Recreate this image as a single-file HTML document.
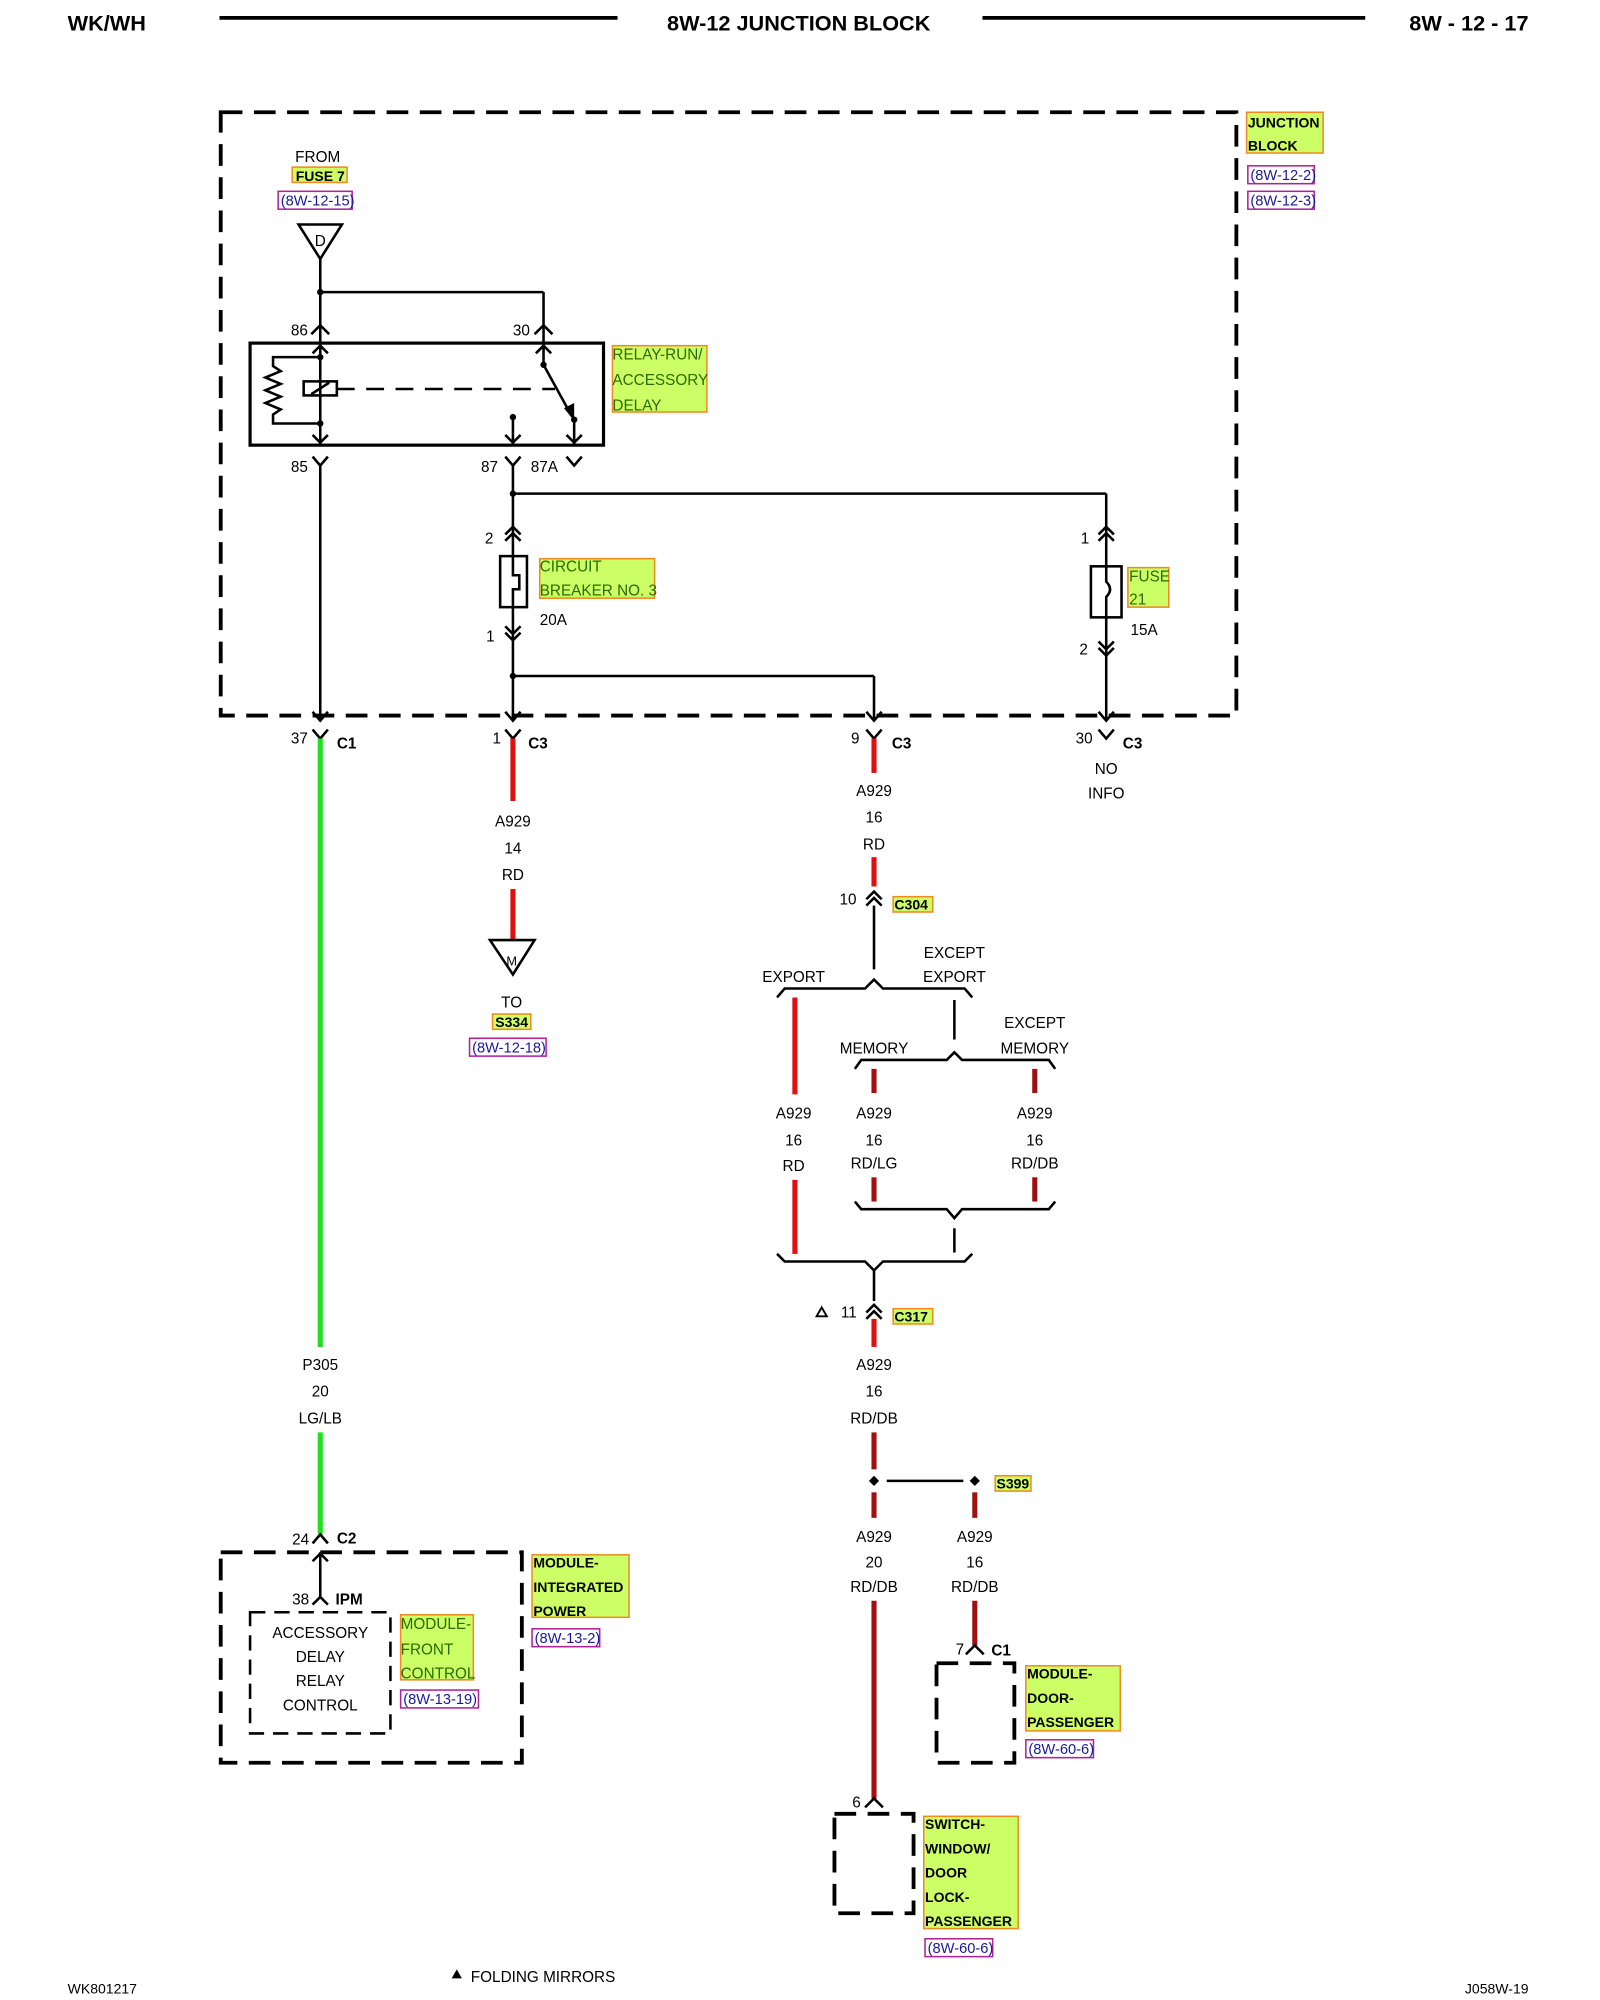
<!DOCTYPE html>
<html><head><meta charset="utf-8"><style>
html,body{margin:0;padding:0;background:#fff;}
svg{display:block;}
text{font-family:"Liberation Sans",sans-serif;font-size:12px;fill:#000;}
.b{font-weight:bold;}
.c{text-anchor:middle;}
.hl{fill:#ccff66;stroke:#f08a20;stroke-width:1.2;}
.hlt{fill:#2a6a00;font-size:12px;}
.hlb{fill:#000;font-weight:bold;font-size:12px;}
.rf{fill:#fff;stroke:#b0209a;stroke-width:1.2;}
.rft{fill:#1a1a9a;font-size:11.5px;}
.w{stroke:#000;stroke-width:2;fill:none;}
.d{stroke:#000;stroke-width:3;fill:none;stroke-dasharray:17 9;}
.d2{stroke:#000;stroke-width:2;fill:none;stroke-dasharray:12 7;}
.red{stroke:#e01010;stroke-width:4;}
.dred{stroke:#a01010;stroke-width:4;}
.grn{stroke:#22dd22;stroke-width:4;}
</style></head><body>
<svg width="1600" height="2000" viewBox="0 0 1254 1568" preserveAspectRatio="none" xmlns="http://www.w3.org/2000/svg">
<text x="53" y="24" class="b" style="font-size:17px">WK/WH</text>
<line x1="172" y1="14" x2="484" y2="14" stroke="#000" stroke-width="3"/>
<text x="626" y="24" class="b c" style="font-size:17px">8W-12 JUNCTION BLOCK</text>
<line x1="770" y1="14" x2="1070" y2="14" stroke="#000" stroke-width="3"/>
<text x="1198" y="24" class="b" style="font-size:17px;text-anchor:end">8W - 12 - 17</text>

<rect x="173" y="88" width="796" height="473" class="d"/>
<rect x="977" y="88" width="60" height="32" class="hl"/>
<text x="978" y="100" class="hlb" style="font-size:11px">JUNCTION</text>
<text x="978" y="118" class="hlb" style="font-size:11px">BLOCK</text>
<rect x="978" y="130" width="52" height="14" class="rf"/><text x="980" y="141" class="rft">(8W-12-2)</text>
<rect x="978" y="150" width="52" height="14" class="rf"/><text x="980" y="161" class="rft">(8W-12-3)</text>

<text x="249" y="127" class="c">FROM</text>
<rect x="229" y="131" width="43" height="12" class="hl"/>
<text x="251" y="142" class="c hlb" style="font-size:11px">FUSE 7</text>
<rect x="218" y="150" width="58" height="14" class="rf"/><text x="220" y="161" class="rft">(8W-12-15)</text>
<polygon points="234,176 268,176 251,203" class="w"/>
<text x="251" y="193" class="c">D</text>
<line x1="251" y1="203" x2="251" y2="268" class="w"/>
<line x1="251" y1="229" x2="426" y2="229" class="w"/>
<line x1="426" y1="229" x2="426" y2="268" class="w"/>
<circle cx="251" cy="229" r="2.5"/>
<polyline points="244,262 251,255 258,262" class="w"/>
<polyline points="419,262 426,255 433,262" class="w"/>
<text x="228" y="263">86</text><text x="402" y="263">30</text>

<rect x="196" y="269" width="277" height="80" stroke="#000" stroke-width="2.5" fill="none"/>
<rect x="480" y="271" width="74" height="52" class="hl"/>
<text x="480" y="282" class="hlt">RELAY-RUN/</text>
<text x="480" y="302" class="hlt">ACCESSORY</text>
<text x="480" y="322" class="hlt">DELAY</text>
<line x1="251" y1="269" x2="251" y2="349" class="w"/>
<polyline points="245,277 251,271 257,277" class="w"/>
<polyline points="245,341 251,347 257,341" class="w"/>
<circle cx="251" cy="280" r="2.5"/><circle cx="251" cy="332" r="2.5"/>
<polyline points="251,280 214,280 214,287 220,291 208,296 220,301 208,306 220,311 208,316 220,321 214,325 214,332 251,332" class="w"/>
<rect x="238" y="299" width="26" height="11" class="w"/>
<line x1="244" y1="309" x2="258" y2="300" class="w"/>
<line x1="264" y1="305" x2="435" y2="305" stroke="#000" stroke-width="2" stroke-dasharray="14 9"/>
<line x1="426" y1="269" x2="426" y2="286" class="w"/>
<polyline points="420,277 426,271 432,277" class="w"/>
<circle cx="426" cy="286" r="2.5"/>
<line x1="426" y1="286" x2="448" y2="326" class="w"/>
<polygon points="442,320 450,330 450,316" fill="#000"/>
<circle cx="402" cy="327" r="2.5"/><line x1="402" y1="327" x2="402" y2="349" class="w"/>
<polyline points="396,341 402,347 408,341" class="w"/>
<circle cx="450" cy="329" r="2.5"/><line x1="450" y1="329" x2="450" y2="349" class="w"/>
<polyline points="444,341 450,347 456,341" class="w"/>
<polyline points="245,358 251,365 257,358" class="w"/>
<polyline points="396,358 402,365 408,358" class="w"/>
<polyline points="444,358 450,365 456,358" class="w"/>
<text x="228" y="370">85</text><text x="377" y="370">87</text><text x="416" y="370">87A</text>
<line x1="251" y1="365" x2="251" y2="565" class="w"/>
<line x1="402" y1="365" x2="402" y2="565" class="w"/>
<line x1="402" y1="387" x2="867" y2="387" class="w"/>
<circle cx="402" cy="387" r="2.5"/>
<line x1="867" y1="387" x2="867" y2="565" class="w"/>

<polyline points="396,419 402,413 408,419" class="w"/><polyline points="396,424 402,418 408,424" class="w"/>
<text x="380" y="426">2</text>
<rect x="392" y="436" width="21" height="40" fill="#fff" stroke="#000" stroke-width="2"/>
<polyline points="402,436 402,451 407,451 407,462 402,462 402,476" class="w"/>
<rect x="423" y="438" width="90" height="31" class="hl"/>
<text x="423" y="448" class="hlt">CIRCUIT</text>
<text x="423" y="467" class="hlt">BREAKER NO. 3</text>
<text x="423" y="490">20A</text>
<polyline points="396,491 402,497 408,491" class="w"/><polyline points="396,496 402,502 408,496" class="w"/>
<text x="381" y="503">1</text>
<line x1="402" y1="530" x2="685" y2="530" class="w"/>
<circle cx="402" cy="530" r="2.5"/>
<line x1="685" y1="530" x2="685" y2="565" class="w"/>

<polyline points="861,419 867,413 873,419" class="w"/><polyline points="861,424 867,418 873,424" class="w"/>
<text x="847" y="426">1</text>
<rect x="855" y="444" width="24" height="40" fill="#fff" stroke="#000" stroke-width="2"/>
<path d="M867,444 L867,456 Q873,462 867,468 L867,484" class="w"/>
<rect x="884" y="445" width="32" height="31" class="hl"/>
<text x="885" y="456" class="hlt">FUSE</text><text x="885" y="474" class="hlt">21</text>
<text x="886" y="498">15A</text>
<polyline points="861,503 867,509 873,503" class="w"/><polyline points="861,508 867,514 873,508" class="w"/>
<text x="846" y="513">2</text>

<polyline points="245,558 251,565 257,558" class="w"/>
<polyline points="396,558 402,565 408,558" class="w"/>
<polyline points="679,558 685,565 691,558" class="w"/>
<polyline points="861,558 867,565 873,558" class="w"/>
<polyline points="245,572 251,579 257,572" class="w"/>
<polyline points="396,572 402,579 408,572" class="w"/>
<polyline points="679,572 685,579 691,572" class="w"/>
<polyline points="861,572 867,579 873,572" class="w"/>
<text x="228" y="583">37</text><text x="264" y="587" class="b">C1</text>
<text x="386" y="583">1</text><text x="414" y="587" class="b">C3</text>
<text x="667" y="583">9</text><text x="699" y="587" class="b">C3</text>
<text x="843" y="583">30</text><text x="880" y="587" class="b">C3</text>
<text x="867" y="607" class="c">NO</text><text x="867" y="626" class="c">INFO</text>

<line x1="251" y1="579" x2="251" y2="1056" class="grn"/>
<text x="251" y="1074" class="c">P305</text>
<text x="251" y="1095" class="c">20</text>
<text x="251" y="1116" class="c">LG/LB</text>
<line x1="251" y1="1123" x2="251" y2="1203" class="grn"/>

<polyline points="245,1210 251,1203 257,1210" class="w"/>
<text x="229" y="1211">24</text><text x="264" y="1210" class="b">C2</text>
<rect x="173" y="1217" width="236" height="165" class="d"/>
<line x1="251" y1="1217" x2="251" y2="1252" class="w"/>
<polyline points="245,1224 251,1218 257,1224" class="w"/>
<polyline points="245,1258 251,1252 257,1258" class="w"/>
<text x="229" y="1258">38</text><text x="263" y="1258" class="b">IPM</text>
<rect x="196" y="1264" width="110" height="95" class="d2"/>
<text x="251" y="1284" class="c">ACCESSORY</text>
<text x="251" y="1303" class="c">DELAY</text>
<text x="251" y="1322" class="c">RELAY</text>
<text x="251" y="1341" class="c">CONTROL</text>
<rect x="314" y="1266" width="57" height="51" class="hl"/>
<text x="314" y="1277" class="hlt">MODULE-</text><text x="314" y="1297" class="hlt">FRONT</text><text x="314" y="1316" class="hlt">CONTROL</text>
<rect x="314" y="1325" width="61" height="14" class="rf"/><text x="316" y="1336" class="rft">(8W-13-19)</text>
<rect x="417" y="1219" width="76" height="49" class="hl"/>
<text x="418" y="1229" class="hlb" style="font-size:11px">MODULE-</text>
<text x="418" y="1248" class="hlb" style="font-size:11px">INTEGRATED</text>
<text x="418" y="1267" class="hlb" style="font-size:11px">POWER</text>
<rect x="417" y="1277" width="53" height="14" class="rf"/><text x="419" y="1288" class="rft">(8W-13-2)</text>

<line x1="402" y1="579" x2="402" y2="628" class="red"/>
<text x="402" y="648" class="c">A929</text>
<text x="402" y="669" class="c">14</text>
<text x="402" y="690" class="c">RD</text>
<line x1="402" y1="697" x2="402" y2="737" class="red"/>
<polygon points="384,737 419,737 402,764" class="w"/>
<text x="401" y="757" class="c" style="font-size:10px">M</text>
<text x="401" y="790" class="c">TO</text>
<rect x="386" y="795" width="30" height="12" class="hl"/>
<text x="401" y="805" class="c hlb" style="font-size:11px">S334</text>
<rect x="368" y="814" width="60" height="14" class="rf"/><text x="370" y="825" class="rft">(8W-12-18)</text>

<line x1="685" y1="579" x2="685" y2="606" class="red"/>
<text x="685" y="624" class="c">A929</text>
<text x="685" y="645" class="c">16</text>
<text x="685" y="666" class="c">RD</text>
<line x1="685" y1="672" x2="685" y2="695" class="red"/>
<polyline points="679,705 685,699 691,705" class="w"/><polyline points="679,710 685,704 691,710" class="w"/>
<text x="658" y="709">10</text>
<rect x="700" y="703" width="31" height="12" class="hl"/>
<text x="701" y="713" class="hlb" style="font-size:11px">C304</text>
<line x1="685" y1="710" x2="685" y2="760" class="w"/>

<text x="622" y="770" class="c">EXPORT</text>
<text x="748" y="751" class="c">EXCEPT</text>
<text x="748" y="770" class="c">EXPORT</text>
<path d="M609,782 L615,775 L678,775 L685,768 L692,775 L756,775 L762,782" class="w"/>
<line x1="623" y1="782" x2="623" y2="858" class="red"/>
<line x1="748" y1="784" x2="748" y2="815" class="w"/>
<text x="685" y="826" class="c">MEMORY</text>
<text x="811" y="806" class="c">EXCEPT</text>
<text x="811" y="826" class="c">MEMORY</text>
<path d="M670,838 L675,831 L742,831 L748,825 L754,831 L822,831 L827,838" class="w"/>
<line x1="685" y1="838" x2="685" y2="857" class="dred"/>
<line x1="811" y1="838" x2="811" y2="857" class="dred"/>
<text x="622" y="877" class="c">A929</text><text x="622" y="898" class="c">16</text><text x="622" y="918" class="c">RD</text>
<text x="685" y="877" class="c">A929</text><text x="685" y="898" class="c">16</text><text x="685" y="916" class="c">RD/LG</text>
<text x="811" y="877" class="c">A929</text><text x="811" y="898" class="c">16</text><text x="811" y="916" class="c">RD/DB</text>
<line x1="685" y1="923" x2="685" y2="942" class="dred"/>
<line x1="811" y1="923" x2="811" y2="942" class="dred"/>
<line x1="623" y1="925" x2="623" y2="983" class="red"/>
<path d="M670,942 L675,948 L742,948 L748,955 L754,948 L822,948 L827,942" class="w"/>
<line x1="748" y1="963" x2="748" y2="982" class="w"/>
<path d="M609,983 L615,989 L678,989 L685,996 L692,989 L756,989 L762,983" class="w"/>
<line x1="685" y1="996" x2="685" y2="1020" class="w"/>
<polyline points="679,1029 685,1023 691,1029" class="w"/><polyline points="679,1034 685,1028 691,1034" class="w"/>
<polygon points="640,1032 648,1032 644,1025" fill="none" stroke="#000" stroke-width="1.5"/>
<text x="659" y="1033">11</text>
<rect x="700" y="1026" width="31" height="12" class="hl"/>
<text x="701" y="1036" class="hlb" style="font-size:11px">C317</text>
<line x1="685" y1="1034" x2="685" y2="1056" class="red"/>
<text x="685" y="1074" class="c">A929</text><text x="685" y="1095" class="c">16</text><text x="685" y="1116" class="c">RD/DB</text>
<line x1="685" y1="1123" x2="685" y2="1152" class="dred"/>
<polygon points="685,1157 689,1161 685,1165 681,1161" fill="#000"/>
<polygon points="764,1157 768,1161 764,1165 760,1161" fill="#000"/>
<line x1="695" y1="1161" x2="755" y2="1161" class="w"/>
<rect x="780" y="1157" width="28" height="12" class="hl"/>
<text x="781" y="1167" class="hlb" style="font-size:11px">S399</text>
<line x1="685" y1="1170" x2="685" y2="1190" class="dred"/>
<line x1="764" y1="1170" x2="764" y2="1190" class="dred"/>
<text x="685" y="1209" class="c">A929</text><text x="685" y="1229" class="c">20</text><text x="685" y="1248" class="c">RD/DB</text>
<text x="764" y="1209" class="c">A929</text><text x="764" y="1229" class="c">16</text><text x="764" y="1248" class="c">RD/DB</text>
<line x1="764" y1="1255" x2="764" y2="1290" class="dred"/>
<line x1="685" y1="1255" x2="685" y2="1410" class="dred"/>

<polyline points="757,1297 764,1290 771,1297" class="w"/>
<text x="749" y="1297">7</text><text x="777" y="1298" class="b">C1</text>
<rect x="734" y="1304" width="61" height="78" class="d"/>
<rect x="804" y="1306" width="74" height="51" class="hl"/>
<text x="805" y="1316" class="hlb" style="font-size:11px">MODULE-</text>
<text x="805" y="1335" class="hlb" style="font-size:11px">DOOR-</text>
<text x="805" y="1354" class="hlb" style="font-size:11px">PASSENGER</text>
<rect x="804" y="1364" width="53" height="14" class="rf"/><text x="806" y="1375" class="rft">(8W-60-6)</text>

<polyline points="678,1417 685,1410 692,1417" class="w"/>
<text x="668" y="1417">6</text>
<rect x="654" y="1422" width="62" height="78" class="d"/>
<rect x="724" y="1424" width="74" height="88" class="hl"/>
<text x="725" y="1434" class="hlb" style="font-size:11px">SWITCH-</text>
<text x="725" y="1453" class="hlb" style="font-size:11px">WINDOW/</text>
<text x="725" y="1472" class="hlb" style="font-size:11px">DOOR</text>
<text x="725" y="1491" class="hlb" style="font-size:11px">LOCK-</text>
<text x="725" y="1510" class="hlb" style="font-size:11px">PASSENGER</text>
<rect x="725" y="1520" width="53" height="14" class="rf"/><text x="727" y="1531" class="rft">(8W-60-6)</text>

<text x="53" y="1563" style="font-size:11px">WK801217</text>
<polygon points="354,1551 362,1551 358,1544" fill="#000"/>
<text x="369" y="1554">FOLDING MIRRORS</text>
<text x="1198" y="1563" style="font-size:11px;text-anchor:end">J058W-19</text>
</svg>
</body></html>
